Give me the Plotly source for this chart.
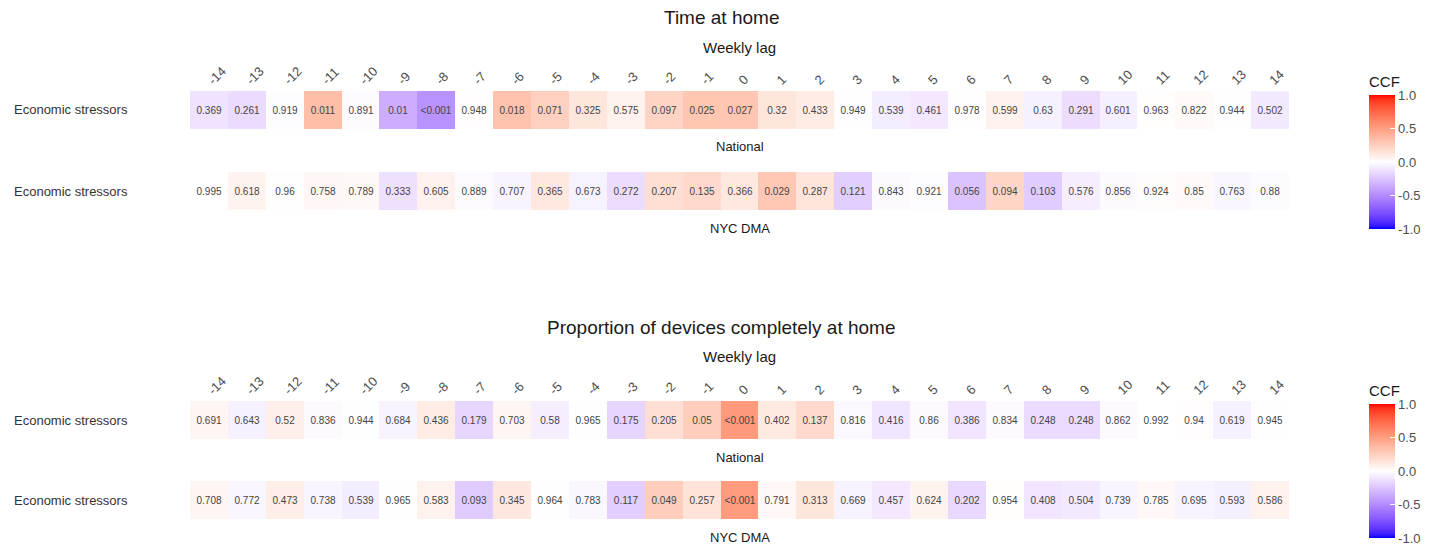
import plotly.graph_objects as go

# ---- data -------------------------------------------------------------
lags = list(range(-14, 15))

# Time at home: cross-correlation with economic stressors
home_nat_ccf = [-0.12, -0.155, -0.012, 0.34, -0.017, -0.35, -0.47, 0.008, 0.32, 0.25,
                0.13, 0.072, 0.225, 0.30, 0.295, 0.13, 0.10, -0.008, -0.08, -0.095,
                0.003, 0.066, -0.06, -0.145, -0.066, 0.006, 0.028, -0.008, -0.088]
home_nat_p = ["0.369", "0.261", "0.919", "0.011", "0.891", "0.01", "<0.001", "0.948", "0.018", "0.071",
              "0.325", "0.575", "0.097", "0.025", "0.027", "0.32", "0.433", "0.949", "0.539", "0.461",
              "0.978", "0.599", "0.63", "0.291", "0.601", "0.963", "0.822", "0.944", "0.502"]
home_nyc_ccf = [0.001, 0.063, -0.006, 0.038, 0.033, -0.13, 0.066, -0.017, -0.048, 0.12,
                -0.055, -0.145, 0.165, 0.20, 0.12, 0.29, 0.14, -0.205, -0.025, -0.012,
                -0.255, 0.22, -0.215, -0.07, -0.022, 0.012, 0.023, -0.038, -0.018]
home_nyc_p = ["0.995", "0.618", "0.96", "0.758", "0.789", "0.333", "0.605", "0.889", "0.707", "0.365",
              "0.673", "0.272", "0.207", "0.135", "0.366", "0.029", "0.287", "0.121", "0.843", "0.921",
              "0.056", "0.094", "0.103", "0.576", "0.856", "0.924", "0.85", "0.763", "0.88"]

# Proportion of devices completely at home
prop_nat_ccf = [0.05, -0.058, 0.082, -0.025, -0.008, -0.052, 0.10, -0.175, 0.048, -0.07,
                0.005, -0.18, 0.165, 0.26, 0.52, 0.11, 0.195, -0.028, -0.105, -0.02,
                -0.115, -0.025, -0.155, -0.155, -0.021, 0.001, 0.009, -0.063, -0.008]
prop_nat_p = ["0.691", "0.643", "0.52", "0.836", "0.944", "0.684", "0.436", "0.179", "0.703", "0.58",
              "0.965", "0.175", "0.205", "0.05", "<0.001", "0.402", "0.137", "0.816", "0.416", "0.86",
              "0.386", "0.834", "0.248", "0.248", "0.862", "0.992", "0.94", "0.619", "0.945"]
prop_nyc_ccf = [0.048, -0.036, 0.092, -0.042, -0.08, 0.005, 0.07, -0.22, 0.125, 0.005,
                -0.034, -0.21, 0.26, 0.15, 0.51, 0.033, 0.13, -0.055, -0.095, 0.063,
                -0.165, 0.007, -0.108, -0.087, -0.042, 0.034, -0.05, -0.068, 0.07]
prop_nyc_p = ["0.708", "0.772", "0.473", "0.738", "0.539", "0.965", "0.583", "0.093", "0.345", "0.964",
              "0.783", "0.117", "0.049", "0.257", "<0.001", "0.791", "0.313", "0.669", "0.457", "0.624",
              "0.202", "0.954", "0.408", "0.504", "0.739", "0.785", "0.695", "0.593", "0.586"]

row_label = "Economic stressors"
panel_titles = ["Time at home", "Proportion of devices completely at home"]
strip_labels = ["National", "NYC DMA"]


# ---- diverging colour scale (blue - white - red, interpolated in Lab) ----
def _lin(c):
    c = c / 255.0
    return c / 12.92 if c <= 0.04045 else ((c + 0.055) / 1.055) ** 2.4


def _gam(c):
    c = 12.92 * c if c <= 0.0031308 else 1.055 * c ** (1 / 2.4) - 0.055
    return max(0, min(255, round(c * 255)))


def rgb_to_lab(rgb):
    r, g, b = (_lin(v) for v in rgb)
    x = (0.4124 * r + 0.3576 * g + 0.1805 * b) / 0.95047
    y = (0.2126 * r + 0.7152 * g + 0.0722 * b) / 1.0
    z = (0.0193 * r + 0.1192 * g + 0.9505 * b) / 1.08883
    f = lambda t: t ** (1 / 3) if t > 0.008856 else 7.787 * t + 16 / 116
    fx, fy, fz = f(x), f(y), f(z)
    return (116 * fy - 16, 500 * (fx - fy), 200 * (fy - fz))


def lab_to_rgb(lab):
    L, a, b = lab
    fy = (L + 16) / 116
    fx = fy + a / 500
    fz = fy - b / 200
    finv = lambda t: t ** 3 if t ** 3 > 0.008856 else (t - 16 / 116) / 7.787
    x, y, z = finv(fx) * 0.95047, finv(fy), finv(fz) * 1.08883
    r = 3.2406 * x - 1.5372 * y - 0.4986 * z
    g = -0.9689 * x + 1.8758 * y + 0.0415 * z
    bb = 0.0557 * x - 0.2040 * y + 1.0570 * z
    return tuple(_gam(max(0.0, v)) for v in (r, g, bb))


def mix(c1, c2, t):
    l1, l2 = rgb_to_lab(c1), rgb_to_lab(c2)
    return lab_to_rgb(tuple(p + (q - p) * t for p, q in zip(l1, l2)))


WHITE, BLUE, RED = (255, 255, 255), (0, 0, 255), (255, 0, 0)
colorscale = []
n_half = 20
for i in range(n_half + 1):
    t = 1 - i / n_half
    c = mix(WHITE, BLUE, t)
    colorscale.append([i / (2 * n_half), "rgb(%d,%d,%d)" % c])
for i in range(1, n_half + 1):
    t = i / n_half
    c = mix(WHITE, RED, t)
    colorscale.append([0.5 + i / (2 * n_half), "rgb(%d,%d,%d)" % c])

# ---- layout geometry (pixels) ----------------------------------------
W, H = 1442, 546
x0_px, x1_px = 190, 1289
rows_px = [(91, 129), (172, 210), (401, 439), (481, 519)]
py = lambda p: 1 - p / H
px = lambda p: p / W

series = [(home_nat_ccf, home_nat_p), (home_nyc_ccf, home_nyc_p),
          (prop_nat_ccf, prop_nat_p), (prop_nyc_ccf, prop_nyc_p)]

fig = go.Figure()
FONT = "Liberation Sans, Arial, Helvetica, sans-serif"
TXT = "#4d4d4d"

for k, ((ccf, pv), (top, bot)) in enumerate(zip(series, rows_px)):
    ax = "" if k == 0 else str(k + 1)
    fig.add_trace(go.Heatmap(
        x=lags, y=[row_label], z=[ccf], text=[pv],
        texttemplate="%{text}", textfont=dict(size=10, color="#444444", family=FONT),
        coloraxis="coloraxis" if k < 2 else "coloraxis2",
        xaxis="x" + ax, yaxis="y" + ax, hoverinfo="x+z+text",
    ))
    top_row = k in (0, 2)
    fig.layout["xaxis" + ax] = dict(
        domain=[px(x0_px), px(x1_px)], anchor="y" + ax, range=[-14.5, 14.5],
        side="top", showticklabels=top_row, tickvals=lags, ticktext=[str(v) for v in lags],
        tickangle=-45, tickfont=dict(size=13, color=TXT, family=FONT),
        ticks="", showgrid=False, zeroline=False, showline=False, fixedrange=True,
    )
    fig.layout["yaxis" + ax] = dict(
        domain=[py(bot), py(top)], anchor="x" + ax, showticklabels=False,
        showgrid=False, zeroline=False, showline=False, ticks="", fixedrange=True,
    )
    # row label on the left
    fig.add_annotation(x=px(12), y=py((top + bot) / 2), xref="paper", yref="paper",
                       text=row_label, showarrow=False, xanchor="left", yanchor="middle",
                       font=dict(size=13, color="#333333", family=FONT))
    # facet strip below each row
    fig.add_annotation(x=px((x0_px + x1_px) / 2), y=py(bot + 18), xref="paper", yref="paper",
                       text=strip_labels[k % 2], showarrow=False, xanchor="center", yanchor="middle",
                       font=dict(size=13, color="#1a1a1a", family=FONT))

# panel titles and axis titles
for title, ty, wy in zip(panel_titles, (17, 327), (47, 356)):
    fig.add_annotation(x=0.5, y=py(ty), xref="paper", yref="paper", text=title,
                       showarrow=False, xanchor="center", yanchor="middle",
                       font=dict(size=19, color="#1a1a1a", family=FONT))
    fig.add_annotation(x=px((x0_px + x1_px) / 2), y=py(wy), xref="paper", yref="paper",
                       text="Weekly lag", showarrow=False, xanchor="center", yanchor="middle",
                       font=dict(size=15, color="#1a1a1a", family=FONT))


def colorbar(center_px):
    return dict(
        title=dict(text="CCF", side="top", font=dict(size=15, color="#1a1a1a", family=FONT)),
        x=px(1369), xanchor="left", y=py(center_px), yanchor="middle",
        lenmode="pixels", len=156, thickness=26, xpad=0, ypad=0,
        outlinewidth=0, tickvals=[-1, -0.5, 0, 0.5, 1],
        ticktext=["-1.0", "-0.5", "0.0", "0.5", "1.0"],
        ticks="inside", ticklen=5, tickcolor="white",
        tickfont=dict(size=13, color=TXT, family=FONT),
    )


fig.update_layout(
    width=W, height=H, margin=dict(l=0, r=0, t=0, b=0),
    paper_bgcolor="white", plot_bgcolor="white", showlegend=False,
    coloraxis=dict(colorscale=colorscale, cmin=-1, cmax=1, colorbar=colorbar(151)),
    coloraxis2=dict(colorscale=colorscale, cmin=-1, cmax=1, colorbar=colorbar(460)),
    font=dict(family=FONT),
)

fig.write_html("out.html")
